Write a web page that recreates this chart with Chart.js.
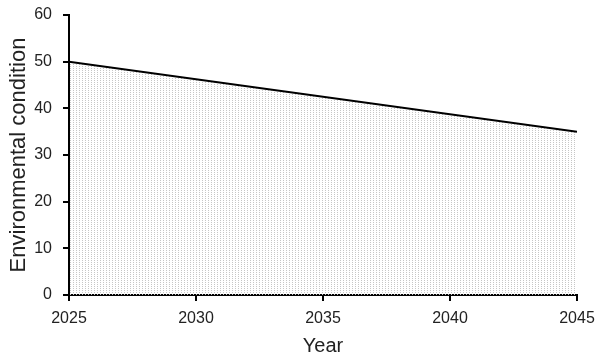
<!DOCTYPE html>
<html>
<head>
<meta charset="utf-8">
<script src="https://cdn.jsdelivr.net/npm/chart.js@4"></script>
<style>
  html, body { margin: 0; padding: 0; background: #fff; }
  #wrap { width: 600px; height: 359px; }
</style>
</head>
<body>
<div id="wrap"><canvas id="myChart"></canvas></div>
<script>
const years = [2025, 2045];
const condition = [50, 35];
const xTicks = [2025, 2030, 2035, 2040, 2045];
const yTicks = [0, 10, 20, 30, 40, 50, 60];

// dotted fill pattern
const tile = document.createElement("canvas");
tile.width = 3;
tile.height = 2;
const tctx = tile.getContext("2d");
tctx.fillStyle = "#c6c6c6";
tctx.fillRect(1, 0, 1, 1);

const ctx = document.getElementById("myChart").getContext("2d");
const pattern = ctx.createPattern(tile, "repeat");

const font = "'Liberation Sans', Arial, sans-serif";

const config = {
  type: "line",
  data: {
    datasets: [
      {
        data: years.map((y, i) => ({ x: y, y: condition[i] })),
        borderColor: "#000",
        borderWidth: 2,
        pointRadius: 0,
        fill: "origin",
        backgroundColor: pattern,
        tension: 0,
      },
    ],
  },
  options: {
    responsive: true,
    maintainAspectRatio: false,
    animation: false,
    layout: { padding: { top: 15, right: 23, left: 4, bottom: 1 } },
    plugins: { legend: { display: false }, tooltip: { enabled: false } },
    scales: {
      x: {
        type: "linear",
        min: xTicks[0],
        max: xTicks[xTicks.length - 1],
        afterBuildTicks: (axis) => {
          axis.ticks = xTicks.map((v) => ({ value: v }));
        },
        afterFit: (scale) => {
          scale.height = 63;
          scale.paddingLeft = 0;
          scale.paddingRight = 0;
        },
        border: { color: "#000", width: 2 },
        grid: { drawOnChartArea: false, color: "#000", lineWidth: 2, tickLength: 6 },
        ticks: {
          color: "#222",
          font: { family: font, size: 16 },
          padding: 8,
          callback: (v) => String(v),
        },
        title: {
          display: true,
          text: "Year",
          color: "#222",
          font: { family: font, size: 20 },
          padding: { top: 6, bottom: 0 },
        },
      },
      y: {
        min: yTicks[0],
        max: yTicks[yTicks.length - 1],
        afterBuildTicks: (axis) => {
          axis.ticks = yTicks.map((v) => ({ value: v }));
        },
        afterFit: (scale) => {
          scale.width = 65;
          scale.paddingTop = 0;
          scale.paddingBottom = 0;
        },
        border: { color: "#000", width: 2 },
        grid: { drawOnChartArea: false, color: "#000", lineWidth: 2, tickLength: 6 },
        ticks: {
          color: "#222",
          font: { family: font, size: 16 },
          padding: 11,
        },
        title: {
          display: true,
          text: "Environmental condition",
          color: "#222",
          font: { family: font, size: 22 },
          padding: { top: 2, bottom: 3 },
        },
      },
    },
  },
};

new Chart(ctx, config);
</script>
</body>
</html>
